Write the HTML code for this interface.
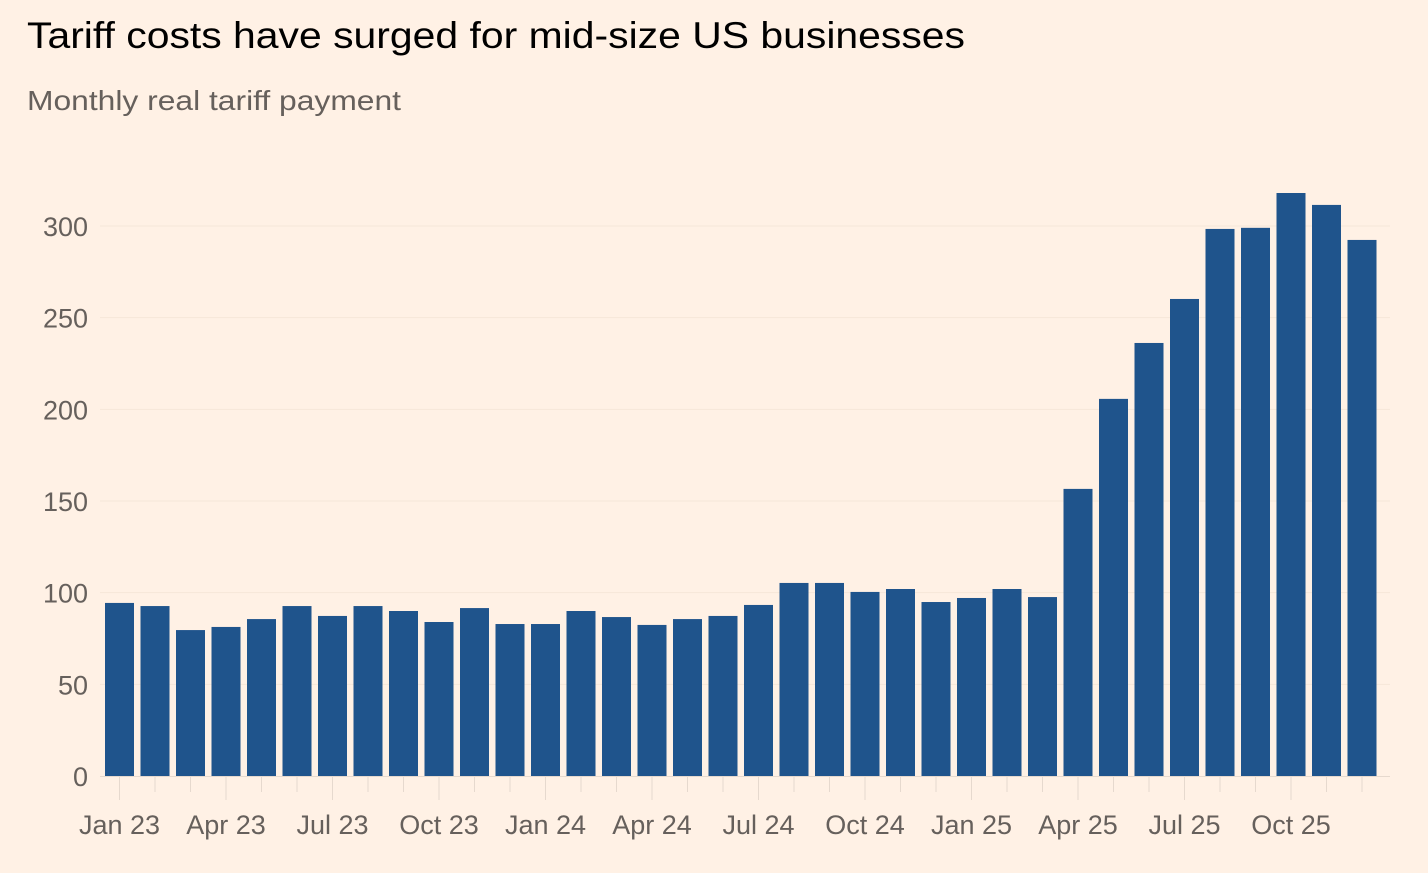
<!DOCTYPE html>
<html><head><meta charset="utf-8"><style>
html,body{margin:0;padding:0;background:#fff1e5;}
body{width:1428px;height:868px;overflow:hidden;font-family:"Liberation Sans",sans-serif;}
</style></head><body>
<svg width="1428" height="868" xmlns="http://www.w3.org/2000/svg">
<text x="27" y="48" font-size="37" fill="#000" textLength="938" lengthAdjust="spacingAndGlyphs">Tariff costs have surged for mid-size US businesses</text>
<text x="27" y="110" font-size="28" fill="#66605c" textLength="374" lengthAdjust="spacingAndGlyphs">Monthly real tariff payment</text>
<g id="grid"></g><g id="bars"></g><g id="xax"></g>
</svg>
<script>
const months=["Jan 23","Feb 23","Mar 23","Apr 23","May 23","Jun 23","Jul 23","Aug 23","Sep 23","Oct 23","Nov 23","Dec 23","Jan 24","Feb 24","Mar 24","Apr 24","May 24","Jun 24","Jul 24","Aug 24","Sep 24","Oct 24","Nov 24","Dec 24","Jan 25","Feb 25","Mar 25","Apr 25","May 25","Jun 25","Jul 25","Aug 25","Sep 25","Oct 25","Nov 25","Dec 25"];
const values=[94.4,92.7,79.6,81.3,85.6,92.7,87.3,92.7,90,84,91.6,82.9,82.9,90,86.7,82.4,85.6,87.3,93.3,105.3,105.3,100.4,102,94.9,97.1,102,97.6,156.6,205.7,236.2,260.2,298.4,299,318,311.5,292.4];
const yTicks=[0,50,100,150,200,250,300];
const xLabels=["Jan 23","Apr 23","Jul 23","Oct 23","Jan 24","Apr 24","Jul 24","Oct 24","Jan 25","Apr 25","Jul 25","Oct 25"];
const NS="http://www.w3.org/2000/svg";
const y=v=>776-v*550/300;
const x=i=>119.5+i*35.5;
function mk(t,a,p){const e=document.createElementNS(NS,t);for(const k in a)e.setAttribute(k,a[k]);p.appendChild(e);return e;}
const grid=document.getElementById('grid'),bars=document.getElementById('bars'),xax=document.getElementById('xax');
yTicks.forEach(v=>{
  if(v>0){const l=mk('line',{x1:100,x2:1390,y1:y(v),y2:y(v),stroke:'#f6e6d9','stroke-width':1},grid);
  
  }
  const t=mk('text',{x:88,y:y(v)+10,'text-anchor':'end','font-size':27,fill:'#66605c'},grid);t.textContent=v;
  
  
});
values.forEach((v,i)=>{
  const r=mk('rect',{x:x(i)-14.5,y:y(v),width:29,height:776-y(v),fill:'#1f548c'},bars);
  
  
});
const ax=mk('line',{x1:100,x2:1390,y1:776.5,y2:776.5,stroke:'#e6d9ce','stroke-width':1},xax);


months.forEach((m,i)=>{
  const q=xLabels.includes(m);
  const tk=mk('line',{x1:x(i),x2:x(i),y1:777,y2:q?800:792,stroke:'#e6d9ce','stroke-width':1},xax);
  
  
  if(q){const t=mk('text',{x:x(i),y:834,'text-anchor':'middle','font-size':27,fill:'#66605c'},xax);t.textContent=m;
  
  }
});
</script>
</body></html>
